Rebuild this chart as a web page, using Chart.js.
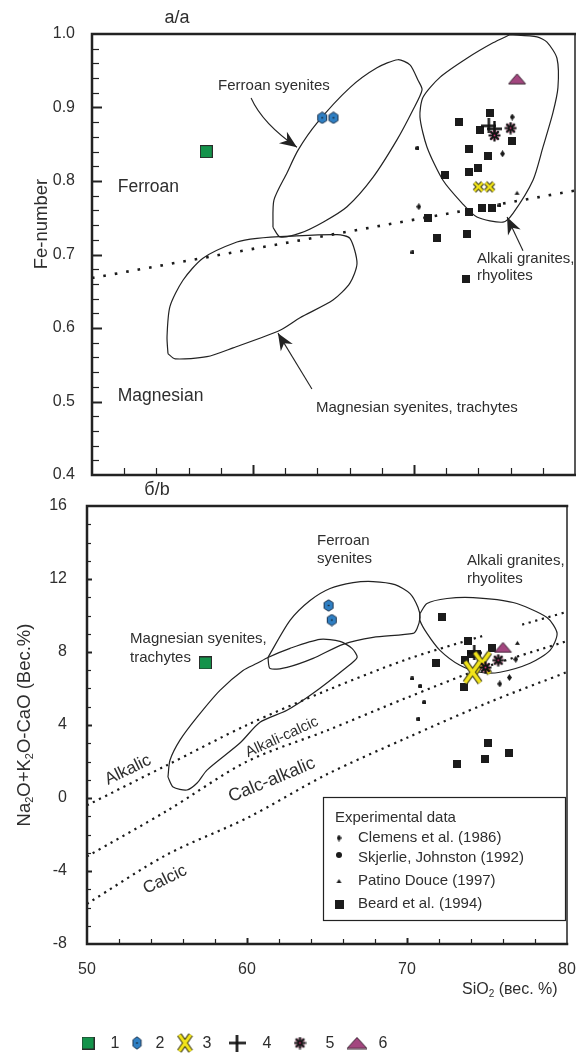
<!DOCTYPE html>
<html>
<head>
<meta charset="utf-8">
<script src="https://cdn.jsdelivr.net/npm/chart.js@4.4.1/dist/chart.umd.min.js"></script>
<style>
  html, body { margin: 0; padding: 0; background: #fff; }
  #wrap { position: relative; width: 576px; height: 1053px; overflow: hidden; }
  #top { position: absolute; left: 0; top: 0; }
  #bottom { position: absolute; left: 0; top: 480px; }
</style>
</head>
<body>
<div id="wrap">
  <canvas id="top" width="576" height="500"></canvas>
  <canvas id="bottom" width="576" height="573"></canvas>
</div>
<script>
const FONT = '"Liberation Sans", Arial, Helvetica, sans-serif';
const INK = '#222';
const TEXT = '#2e2e2e';

// tick labels
const siTickLabels = [50, 60, 70, 80];
const feTickLabels = [0.4, 0.5, 0.6, 0.7, 0.8, 0.9, 1.0];
const naTickLabels = [-8, -4, 0, 4, 8, 12, 16];

// ---------- panel а/a : Fe-number vs SiO2 ----------
const feSample1 = [[57.1, 0.84]];
const feSample2 = [[64.3, 0.886], [65.0, 0.886]];
const feSample3 = [[74.0, 0.792], [74.7, 0.792]];
const feSample4 = [[74.65, 0.875], [75.0, 0.871]];
const feSample5 = [[75.0, 0.862], [76.0, 0.872]];
const feSample6 = [[76.4, 0.939]];
const feBeard = [[74.7, 0.893], [72.8, 0.880], [74.1, 0.869], [76.1, 0.855], [73.4, 0.844], [74.6, 0.834],
  [74.0, 0.818], [73.4, 0.812], [71.9, 0.808], [73.4, 0.758], [74.2, 0.763], [74.85, 0.763],
  [70.9, 0.750], [71.4, 0.722], [73.3, 0.728], [73.2, 0.667]];
const feClemens = [[76.1, 0.887], [75.5, 0.837], [70.3, 0.765]];
const feSkjerlie = [[70.2, 0.845], [75.3, 0.767], [69.9, 0.703]];
const fePatino = [[76.4, 0.784]];

// field outlines
const feFieldFerroanSy = [[61.24, 0.737], [61.30, 0.774], [62.11, 0.811], [62.80, 0.842], [63.98, 0.879],
  [66.02, 0.927], [67.70, 0.954], [69.0, 0.965], [69.75, 0.958], [70.25, 0.937], [70.5, 0.924],
  [69.94, 0.897], [68.94, 0.856], [67.45, 0.805], [65.84, 0.765], [64.35, 0.744], [62.92, 0.729],
  [61.68, 0.724], [61.24, 0.737]];
const feFieldMagSy = [[54.72, 0.565], [54.66, 0.588], [54.84, 0.629], [55.65, 0.665], [56.89, 0.695],
  [59.0, 0.717], [60.25, 0.722], [62.30, 0.725], [65.22, 0.727], [66.02, 0.722], [66.46, 0.688],
  [66.02, 0.661], [64.97, 0.638], [62.92, 0.614], [61.68, 0.597], [58.76, 0.573], [57.14, 0.561],
  [55.16, 0.558], [54.72, 0.565]];
const feFieldAlkGr = [[75.96, 0.999], [77.64, 0.996], [78.26, 0.989], [78.88, 0.967], [78.94, 0.927],
  [78.63, 0.893], [78.01, 0.846], [77.39, 0.801], [76.15, 0.756], [75.53, 0.744], [73.91, 0.751],
  [72.98, 0.770], [71.80, 0.801], [70.81, 0.846], [70.37, 0.887], [70.56, 0.914], [71.61, 0.941],
  [73.29, 0.967], [74.91, 0.988], [75.96, 0.999]];
const feBoundary = [[50, 0.668], [80, 0.787]];

// ---------- panel б/b : Na2O+K2O-CaO vs SiO2 ----------
const naSample1 = [[57.4, 7.4]];
const naSample2 = [[65.1, 10.55], [65.3, 9.75]];
const naSample3 = [[74.7, 7.4], [74.1, 6.9]];
const naSample4 = [[74.2, 7.95]];
const naSample5 = [[74.9, 7.15], [75.7, 7.55]];
const naSample6 = [[76.0, 8.25]];
const naBeard = [[72.2, 9.9], [73.8, 8.6], [75.3, 8.2], [74.4, 7.9], [74.0, 7.9], [71.8, 7.4], [73.6, 7.55],
  [73.55, 6.1], [75.05, 3.0], [74.9, 2.15], [76.4, 2.45], [73.1, 1.85]];
const naClemens = [[76.8, 7.6], [76.4, 6.6], [75.8, 6.25]];
const naSkjerlie = [[70.3, 6.55], [70.8, 6.15], [71.05, 5.25], [70.7, 4.35]];
const naPatino = [[76.9, 8.5]];

const naFieldFerroanSy = [[61.31, 7.70], [62.69, 9.73], [63.94, 10.82], [65.19, 11.48], [66.63, 11.80],
  [67.88, 11.86], [69.25, 11.69], [70.19, 11.20], [70.69, 10.44], [70.81, 9.89], [70.63, 9.29],
  [70.38, 9.02], [67.88, 8.80], [66.0, 8.42], [64.13, 7.65], [62.5, 7.16], [61.44, 7.10], [61.31, 7.70]];
const naFieldMagSy = [[55.06, 1.15], [55.19, 2.08], [55.81, 3.17], [56.88, 4.43], [58.31, 5.90],
  [59.75, 6.99], [60.63, 7.38], [61.31, 7.70], [62.69, 8.20], [64.56, 8.69], [65.81, 8.58],
  [66.56, 8.20], [66.88, 7.70], [66.13, 7.10], [64.13, 5.74], [62.5, 4.81], [60.81, 4.15],
  [59.56, 3.01], [57.5, 1.53], [56.88, 0.82], [56.25, 0.44], [55.38, 0.60], [55.06, 1.15]];
const naFieldAlkGr = [[70.81, 10.11], [71.25, 10.66], [72.5, 10.93], [74.13, 10.98], [76.63, 10.71],
  [78.75, 9.89], [79.38, 9.02], [78.94, 8.09], [77.69, 7.38], [75.81, 6.89], [74.56, 6.89],
  [73.31, 7.27], [72.06, 8.09], [71.25, 9.02], [70.81, 9.73], [70.81, 10.11]];
const naAlkalicLine = [[50, -0.4], [55, 1.8], [60, 4.0], [65, 5.9], [70, 7.6], [74.8, 8.9], [76, null], [77.2, 9.5], [80, 10.2]];
const naAlkCalcLine = [[50, -3.2], [55, -0.7], [60, 2.0], [65, 3.7], [70, 5.5], [75, 7.2], [80, 8.6]];
const naCalcAlkLine = [[50, -5.8], [55, -3.1], [60, -1.1], [65, 1.3], [70, 3.3], [75, 5.2], [80, 6.9]];

const experimentalNames = ['Clemens et al. (1986)', 'Skjerlie, Johnston (1992)', 'Patino Douce (1997)', 'Beard et al. (1994)'];
const sampleNumbers = ['1', '2', '3', '4', '5', '6'];

// ---------- marker images ----------
function marker(w, h, paint) {
  const c = document.createElement('canvas');
  c.width = w; c.height = h;
  paint(c.getContext('2d'), w, h);
  return c;
}
const mkSquare = (s) => marker(s, s, (g, w, h) => {
  g.fillStyle = '#14934b'; g.fillRect(0.5, 0.5, w - 1, h - 1);
  g.strokeStyle = '#2a2a2a'; g.lineWidth = 1; g.strokeRect(0.5, 0.5, w - 1, h - 1);
});
const mkHex = (w, h) => marker(w, h, (g) => {
  const cx = w / 2, cy = h / 2, rx = w / 2 - 0.8, ry = h / 2 - 0.8;
  g.beginPath();
  for (let i = 0; i < 6; i++) {
    const t = -Math.PI / 2 + i * Math.PI / 3;
    const px = cx + rx * Math.cos(t), py = cy + ry * Math.sin(t);
    if (i) g.lineTo(px, py); else g.moveTo(px, py);
  }
  g.closePath();
  g.fillStyle = '#2f7fc3'; g.fill();
  g.strokeStyle = '#1d3550'; g.lineWidth = 1; g.stroke();
  g.fillStyle = '#111'; g.fillRect(cx - 0.7, cy - 0.7, 1.4, 1.4);
});
const mkX = (w, h, lw) => marker(w, h, (g) => {
  const p = lw / 2 + 1.2;
  const path = () => { g.beginPath(); g.moveTo(p, p); g.lineTo(w - p, h - p); g.moveTo(w - p, p); g.lineTo(p, h - p); };
  path(); g.strokeStyle = '#3b3a18'; g.lineWidth = lw + 2; g.stroke();
  path(); g.strokeStyle = '#f2e41a'; g.lineWidth = lw; g.stroke();
});
const mkPlus = (s, lw) => marker(s, s, (g, w, h) => {
  g.strokeStyle = '#111'; g.lineWidth = lw;
  g.beginPath(); g.moveTo(0, h / 2); g.lineTo(w, h / 2); g.moveTo(w / 2, 0); g.lineTo(w / 2, h); g.stroke();
});
const mkStar = (s) => marker(s, s, (g, w, h) => {
  const c = s / 2, r = s / 2 - 0.5;
  g.fillStyle = '#d9327c';
  for (let i = 0; i < 8; i++) {
    const t = i * Math.PI / 4 + Math.PI / 8;
    g.fillRect(c + r * 0.75 * Math.cos(t) - 0.5, c + r * 0.75 * Math.sin(t) - 0.5, 1, 1);
  }
  g.strokeStyle = '#121212'; g.lineWidth = 2.2;
  g.beginPath();
  for (let i = 0; i < 4; i++) {
    const t = i * Math.PI / 4;
    g.moveTo(c - r * Math.cos(t), c - r * Math.sin(t)); g.lineTo(c + r * Math.cos(t), c + r * Math.sin(t));
  }
  g.stroke();
  g.fillStyle = '#d9327c'; g.fillRect(c - 0.8, c - 0.8, 1.6, 1.6);
});
const mkTri = (w, h, fill, stroke) => marker(w, h, (g) => {
  g.beginPath(); g.moveTo(1, h - 1); g.lineTo(w / 2, 1); g.lineTo(w - 1, h - 1); g.closePath();
  g.fillStyle = fill; g.fill();
  if (stroke) { g.strokeStyle = stroke; g.lineWidth = 1; g.stroke(); }
});
const mkBlock = (w, h) => marker(w, h, (g) => { g.fillStyle = '#1b1b1b'; g.fillRect(0, 0, w, h); });
const mkDiamond = (w, h) => marker(w, h, (g) => {
  g.beginPath(); g.moveTo(w / 2, 0); g.lineTo(w, h / 2); g.lineTo(w / 2, h); g.lineTo(0, h / 2); g.closePath();
  g.fillStyle = '#1b1b1b'; g.fill();
});
const mkDot = (s) => marker(s, s, (g) => {
  g.beginPath(); g.arc(s / 2, s / 2, s / 2, 0, Math.PI * 2); g.fillStyle = '#1b1b1b'; g.fill();
});

const M = {
  s1: mkSquare(13), s2: mkHex(12, 13), s3: mkX(13, 13, 2.4), s3big: mkX(21, 27, 3.6),
  s4: mkPlus(15, 2.4), s5: mkStar(13), s6: mkTri(19, 12, '#a3467f', '#3a2533'),
  beard: mkBlock(8, 8), clemens: mkDiamond(5, 7), skjerlie: mkDot(4.5), patino: mkTri(7, 6, '#1b1b1b'),
};

// ---------- dataset helpers ----------
const pts = (arr) => arr.map(p => ({ x: p[0], y: p[1] }));
const markerSet = (arr, img) => ({ data: pts(arr), pointStyle: img, pointRadius: 6, showLine: false });
const outline = (arr) => ({ data: pts(arr), showLine: true, pointRadius: 0, borderColor: INK, borderWidth: 1.2, tension: 0.25, fill: false });
const dotted = (arr, w, dash) => ({ data: pts(arr), showLine: true, pointRadius: 0, borderColor: '#1a1a1a', borderWidth: w, borderDash: dash, tension: 0.3, spanGaps: false, fill: false });
const noPad = (s) => { s.paddingLeft = 0; s.paddingRight = 0; };

// ---------- drawing helpers ----------
function rich(ctx, parts, size, x, y, align, angle) {
  // parts: strings; a part starting with '_' is a subscript
  ctx.save();
  ctx.translate(x, y);
  if (angle) ctx.rotate(angle * Math.PI / 180);
  const big = `${size}px ${FONT}`, small = `${Math.round(size * 0.62)}px ${FONT}`;
  let total = 0;
  const widths = parts.map(p => { ctx.font = p[0] === '_' ? small : big; const w = ctx.measureText(p[0] === '_' ? p.slice(1) : p).width; total += w; return w; });
  let cx = align === 'center' ? -total / 2 : align === 'right' ? -total : 0;
  ctx.fillStyle = TEXT; ctx.textBaseline = 'middle'; ctx.textAlign = 'left';
  parts.forEach((p, i) => {
    const sub = p[0] === '_';
    ctx.font = sub ? small : big;
    ctx.fillText(sub ? p.slice(1) : p, cx, sub ? size * 0.25 : 0);
    cx += widths[i];
  });
  ctx.restore();
}

function arrow(ctx, a, c, b) {
  ctx.strokeStyle = INK; ctx.lineWidth = 1.1;
  ctx.beginPath(); ctx.moveTo(a[0], a[1]); ctx.quadraticCurveTo(c[0], c[1], b[0], b[1]); ctx.stroke();
  const ang = Math.atan2(b[1] - c[1], b[0] - c[0]);
  const L = 17, W = 7, ca = Math.cos(ang), sa = Math.sin(ang);
  ctx.fillStyle = INK;
  ctx.beginPath();
  ctx.moveTo(b[0], b[1]);
  ctx.lineTo(b[0] - L * ca + W * sa, b[1] - L * sa - W * ca);
  ctx.lineTo(b[0] - 0.7 * L * ca, b[1] - 0.7 * L * sa);
  ctx.lineTo(b[0] - L * ca - W * sa, b[1] - L * sa + W * ca);
  ctx.closePath(); ctx.fill();
}

function panelPlugin(cfg) {
  return {
    id: 'panel' + cfg.name,
    afterDatasetsDraw(chart) {
      const { ctx, chartArea: a, scales: { x, y } } = chart;
      const P = (p) => [x.getPixelForValue(p[0]), y.getPixelForValue(p[1])];
      ctx.save();
      cfg.labels.forEach(l => {
        const [px, py] = P(l.at);
        rich(ctx, [l.text], l.size, px, py, l.align || 'left', l.angle || 0);
      });
      (cfg.arrows || []).forEach(ar => {
        const s = P(ar[0]), e = P(ar[2]);
        const c = ar[1] ? P(ar[1]) : [(s[0] + e[0]) / 2, (s[1] + e[1]) / 2];
        arrow(ctx, s, c, e);
      });
      if (cfg.box) cfg.box(ctx, a);

      // inner tick marks
      ctx.strokeStyle = INK;
      const tx = cfg.xTicks, ty = cfg.yTicks;
      for (let k = 1; k < tx.n; k++) {
        const v = x.min + k * (x.max - x.min) / tx.n;
        const px = Math.round(x.getPixelForValue(v)) + 0.5;
        const major = k % tx.every === 0;
        ctx.lineWidth = major ? 2 : 1.2;
        ctx.beginPath(); ctx.moveTo(px, a.bottom); ctx.lineTo(px, a.bottom - (major ? tx.major : tx.minor)); ctx.stroke();
      }
      for (let k = 1; k < ty.n; k++) {
        const v = y.min + k * (y.max - y.min) / ty.n;
        const py = Math.round(y.getPixelForValue(v)) + 0.5;
        const major = k % ty.every === 0;
        ctx.lineWidth = major ? 2 : 1.2;
        ctx.beginPath(); ctx.moveTo(a.left, py); ctx.lineTo(a.left + (major ? ty.major : ty.minor), py); ctx.stroke();
      }
      // frame
      ctx.lineCap = 'square';
      ctx.lineWidth = 1.5;
      ctx.beginPath(); ctx.moveTo(a.right, a.top); ctx.lineTo(a.right, a.bottom); ctx.stroke();
      ctx.lineWidth = 2.5;
      ctx.beginPath();
      ctx.moveTo(a.right, a.top); ctx.lineTo(a.left, a.top); ctx.lineTo(a.left, a.bottom); ctx.lineTo(a.right, a.bottom);
      ctx.stroke();
      ctx.restore();
    },
    afterDraw(chart) {
      const { ctx } = chart;
      ctx.save();
      rich(ctx, [cfg.title], 18, cfg.titleAt[0], cfg.titleAt[1], 'center', 0);
      rich(ctx, cfg.yTitle, 18.5, cfg.yTitleAt[0], cfg.yTitleAt[1], 'center', -90);
      if (cfg.xTitle) rich(ctx, cfg.xTitle, 16, cfg.xTitleAt[0], cfg.xTitleAt[1], 'left', 0);
      if (cfg.after) cfg.after(ctx, chart);
      ctx.restore();
    }
  };
}

function baseOptions(padding, xScale, yScale) {
  return {
    responsive: false, animation: false, events: [],
    layout: { padding, autoPadding: false },
    plugins: { legend: { display: false }, tooltip: { enabled: false }, title: { display: false } },
    scales: { x: xScale, y: yScale }
  };
}

// ---------- panel а/a ----------
new Chart(document.getElementById('top'), {
  type: 'scatter',
  data: {
    datasets: [
      markerSet(feSample6, M.s6), markerSet(feSample5, M.s5), markerSet(feSample4, M.s4),
      markerSet(feSample3, M.s3), markerSet(feSample2, M.s2), markerSet(feSample1, M.s1),
      markerSet(feBeard, M.beard), markerSet(feClemens, M.clemens), markerSet(feSkjerlie, M.skjerlie),
      markerSet(fePatino, M.patino),
      outline(feFieldFerroanSy), outline(feFieldMagSy), outline(feFieldAlkGr),
      dotted(feBoundary, 2.6, [2.6, 9])
    ]
  },
  options: baseOptions({ top: 34, right: 1, bottom: 25, left: 0 },
    { type: 'linear', min: 50, max: 80, display: false, ticks: { display: false }, afterFit: noPad },
    {
      type: 'linear', min: 0.4, max: 1.0,
      afterFit: (s) => { s.width = 92; },
      afterBuildTicks: (s) => { s.ticks = feTickLabels.map(v => ({ value: v })); },
      grid: { display: false }, border: { display: false },
      ticks: { padding: 9, color: TEXT, font: { family: FONT, size: 16 }, callback: (v) => v.toFixed(1) }
    }),
  plugins: [panelPlugin({
    name: 'A',
    title: 'а/a', titleAt: [177, 18],
    yTitle: ['Fe-number'], yTitleAt: [42, 224],
    xTicks: { n: 15, every: 5, minor: 7, major: 10 },
    yTicks: { n: 30, every: 5, minor: 7, major: 10 },
    labels: [
      { text: 'Ferroan', at: [51.6, 0.792], size: 17.5 },
      { text: 'Magnesian', at: [51.6, 0.507], size: 17.5 },
      { text: 'Ferroan syenites', at: [57.83, 0.930], size: 15 },
      { text: 'Alkali granites,', at: [73.91, 0.694], size: 15 },
      { text: 'rhyolites', at: [73.91, 0.671], size: 15 },
      { text: 'Magnesian syenites, trachytes', at: [63.91, 0.492], size: 15 }
    ],
    arrows: [
      [[59.88, 0.913], [60.6, 0.878], [62.73, 0.846]],
      [[63.66, 0.517], null, [61.55, 0.593]],
      [[76.77, 0.705], null, [75.78, 0.751]]
    ]
  })]
});

// ---------- panel б/b ----------
new Chart(document.getElementById('bottom'), {
  type: 'scatter',
  data: {
    datasets: [
      markerSet(naSample6, M.s6), markerSet(naSample5, M.s5),
      markerSet([naSample3[1]], M.s3big), markerSet([naSample3[0]], M.s3big), markerSet(naSample4, M.s4),
      markerSet(naSample2, M.s2), markerSet(naSample1, M.s1),
      markerSet(naBeard, M.beard), markerSet(naClemens, M.clemens), markerSet(naSkjerlie, M.skjerlie),
      markerSet(naPatino, M.patino),
      outline(naFieldFerroanSy), outline(naFieldMagSy), outline(naFieldAlkGr),
      dotted(naAlkalicLine, 2.2, [2.2, 4.6]), dotted(naAlkCalcLine, 2.2, [2.2, 4.6]), dotted(naCalcAlkLine, 2.2, [2.2, 4.6])
    ]
  },
  options: baseOptions({ top: 26, right: 9, bottom: 69, left: 0 },
    {
      type: 'linear', min: 50, max: 80,
      afterFit: (s) => { s.height = 40; noPad(s); },
      afterBuildTicks: (s) => { s.ticks = siTickLabels.map(v => ({ value: v })); },
      grid: { display: false }, border: { display: false },
      ticks: { padding: 8, color: TEXT, font: { family: FONT, size: 16 }, maxRotation: 0 }
    },
    {
      type: 'linear', min: -8, max: 16,
      afterFit: (s) => { s.width = 87; },
      afterBuildTicks: (s) => { s.ticks = naTickLabels.map(v => ({ value: v })); },
      grid: { display: false }, border: { display: false },
      ticks: { padding: 12, color: TEXT, font: { family: FONT, size: 16 } }
    }),
  plugins: [panelPlugin({
    name: 'B',
    title: 'б/b', titleAt: [157, 10],
    yTitle: ['Na', '_2', 'O+K', '_2', 'O-CaO (Вес.%)'], yTitleAt: [25, 245],
    xTitle: ['SiO', '_2', ' (вес. %)'], xTitleAt: [462, 510],
    xTicks: { n: 15, every: 5, minor: 5, major: 6 },
    yTicks: { n: 24, every: 4, minor: 4, major: 5 },
    labels: [
      { text: 'Ferroan', at: [64.38, 14.1], size: 15 },
      { text: 'syenites', at: [64.38, 13.1], size: 15 },
      { text: 'Alkali granites,', at: [73.75, 13.0], size: 15 },
      { text: 'rhyolites', at: [73.75, 12.0], size: 15 },
      { text: 'Magnesian syenites,', at: [52.69, 8.74], size: 15 },
      { text: 'trachytes', at: [52.69, 7.7], size: 15 },
      { text: 'Alkalic', at: [52.56, 1.53], size: 17, align: 'center', angle: -26 },
      { text: 'Alkali-calcic', at: [62.19, 3.33], size: 15, align: 'center', angle: -24.5 },
      { text: 'Calc-alkalic', at: [61.56, 0.98], size: 18, align: 'center', angle: -22.5 },
      { text: 'Calcic', at: [54.88, -4.48], size: 17, align: 'center', angle: -26 }
    ],
    box: (ctx, a) => {
      const L = a.left + 236, T = a.top + 291, R = a.right - 2, B = a.top + 414;
      ctx.fillStyle = '#fff'; ctx.fillRect(L, T, R - L, B - T);
      ctx.strokeStyle = INK; ctx.lineWidth = 1.2; ctx.strokeRect(L + 0.5, T + 0.5, R - L, B - T);
      rich(ctx, ['Experimental data'], 15, L + 12, T + 21, 'left', 0);
      const icons = [M.clemens, mkDot(6), mkTri(7, 6, '#1b1b1b'), mkBlock(9, 9)];
      const rows = [41, 61, 84, 107];
      experimentalNames.forEach((name, i) => {
        const img = icons[i];
        ctx.drawImage(img, L + 16 - img.width / 2, T + rows[i] - img.height / 2 - (i === 1 ? 3 : 0));
        rich(ctx, [name], 15, L + 35, T + rows[i], 'left', 0);
      });
    },
    after: (ctx) => {
      const icons = [mkSquare(13), mkHex(11, 14), mkX(17, 22, 3.2), mkPlus(17, 2.6), mkStar(13), mkTri(22, 13, '#a3467f', '#3a2533')];
      const iconX = [88, 137, 185, 237, 300, 357];
      const numX = [115, 160, 207, 267, 330, 383];
      const yy = 563;
      sampleNumbers.forEach((n, i) => {
        const img = icons[i];
        ctx.drawImage(img, iconX[i] - img.width / 2, yy - img.height / 2);
        rich(ctx, [n], 16, numX[i], yy + 1, 'center', 0);
      });
    }
  })]
});
</script>
</body>
</html>
